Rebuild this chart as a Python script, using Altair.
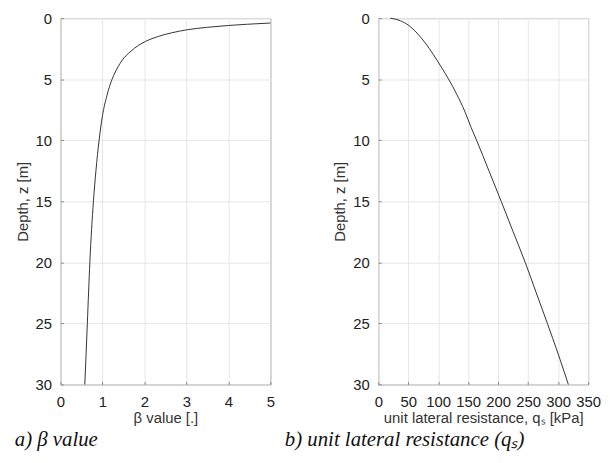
import altair as alt
import pandas as pd

# ---- data ----
beta_z = [0.40, 0.50, 0.60, 0.75, 0.95, 1.20, 1.50, 1.90, 2.70, 3.50, 4.60, 5.00, 6.30, 8.00, 10.0, 12.5, 15.0, 20.0, 25.0, 30.0]
beta_val = [5.00, 4.45, 4.00, 3.50, 3.02, 2.65, 2.33, 2.03, 1.68, 1.46, 1.28, 1.23, 1.11, 1.00, 0.92, 0.845, 0.785, 0.70, 0.64, 0.58]

qs_z = [0.0, 0.22, 0.6, 1.22, 2.04, 2.99, 4.08, 4.97, 6.25, 7.6, 8.97, 10.0, 12.5, 15.0, 17.5, 20.0, 22.5, 25.0, 27.5, 30.0]
qs_val = [20, 37, 51, 64.5, 78.5, 92, 106, 117, 131, 144, 155, 164, 184.5, 205, 225, 245, 263.5, 282, 300, 317]

beta_ticks = [0, 1, 2, 3, 4, 5]
qs_ticks = [0, 50, 100, 150, 200, 250, 300, 350]
depth_ticks = [0, 5, 10, 15, 20, 25, 30]

caption_a = "a) β value"
caption_b = "b) unit lateral resistance (qₛ)"

FONT = "Liberation Sans"
SERIF = "Liberation Serif"


def panel(xs, zs, xdomain, xticks, xtitle):
    df = pd.DataFrame({"x": xs, "z": zs})
    xs_ = alt.Scale(domain=xdomain, nice=False, zero=False)
    ys_ = alt.Scale(domain=[0, 30], reverse=True, nice=False, zero=False)
    return alt.Chart(df).mark_line(color="#333333", strokeWidth=1, interpolate="monotone").encode(
        x=alt.X("x:Q", scale=xs_, axis=alt.Axis(
            values=xticks, title=xtitle, orient="bottom", grid=True, domain=False,
            ticks=True, tickSize=3, offset=-3, labelPadding=10, titlePadding=1,
            labelOverlap=False, labelFlush=False, minExtent=0)),
        y=alt.Y("z:Q", scale=ys_, axis=alt.Axis(
            values=depth_ticks, title="Depth, z [m]", orient="left", grid=True, domain=False,
            ticks=True, tickSize=3, offset=-3, labelPadding=9, titlePadding=5,
            labelOverlap=False, minExtent=0)),
        order="z:Q",
    ).properties(width=212, height=370)


left = panel(beta_val, beta_z, [0, 5], beta_ticks, "β value [.]")
right = panel(qs_val, qs_z, [0, 350], qs_ticks, "unit lateral resistance, qₛ [kPa]")

chart = alt.hconcat(left, right, spacing=57).properties(
    padding={"left": 6, "top": 0, "right": 0, "bottom": 0},
    title=alt.TitleParams(caption_a + "\u00a0" * 36 + caption_b, orient="bottom", anchor="start",
                          font=SERIF, fontStyle="italic", fontWeight="normal", fontSize=21,
                          color="#111111", offset=4),
).configure_view(
    stroke="#8a8a8a", strokeWidth=1
).configure_axis(
    labelFont=FONT, titleFont=FONT, labelFontSize=15, titleFontSize=15,
    labelColor="#222222", titleColor="#333333", titleFontWeight="normal",
    gridColor="#e6e6e6", gridWidth=1, tickColor="#888888",
)

chart.save("out.html", embed_options={"renderer": "svg", "actions": False})
